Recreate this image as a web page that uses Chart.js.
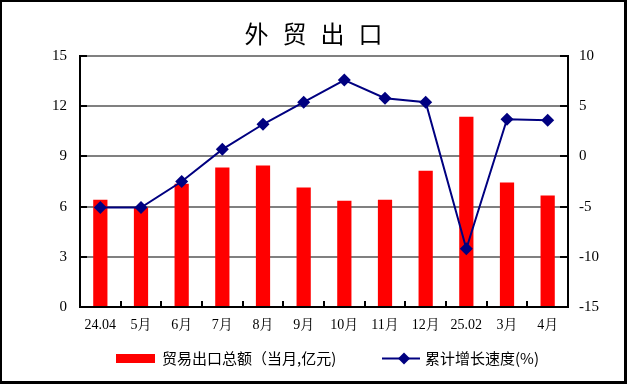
<!DOCTYPE html>
<html>
<head>
<meta charset="utf-8">
<script src="https://cdn.jsdelivr.net/npm/chart.js@4/dist/chart.umd.min.js"></script>
<style>
html,body{margin:0;padding:0;background:#fff;}
#wrap{width:627px;height:384px;position:relative;}
</style>
</head>
<body>
<div id="wrap"><canvas id="c" width="627" height="384"></canvas></div>
<script>
const titleText = "外 贸 出 口";
const categories = ["24.04","5月","6月","7月","8月","9月","10月","11月","12月","25.02","3月","4月"];
const exportValues = [6.41, 5.95, 7.36, 8.33, 8.45, 7.14, 6.35, 6.41, 8.14, 11.37, 7.44, 6.67];
const growthValues = [-5.1, -5.1, -2.5, 0.7, 3.2, 5.4, 7.6, 5.8, 5.4, -9.2, 3.7, 3.6];
const barLabel = "贸易出口总额（当月,亿元)";
const lineLabel = "累计增长速度(%)";
const leftTicks = [0, 3, 6, 9, 12, 15];
const rightTicks = [-15, -10, -5, 0, 5, 10];

const serif = "'Liberation Serif','Times New Roman','Noto Serif CJK SC','Noto Sans CJK SC',serif";
const cjk = "'Noto Sans CJK SC','Noto Sans',sans-serif";

const decor = {
  id: 'decor',
  afterDatasetsDraw(chart) {
    const ctx = chart.ctx;
    const x = chart.scales.x, y = chart.scales.y, y1 = chart.scales.y1;
    const a = chart.chartArea;
    ctx.save();
    ctx.strokeStyle = '#000';
    ctx.lineWidth = 2;
    ctx.beginPath();
    // left axis inward ticks
    leftTicks.forEach(v => {
      const py = Math.round(y.getPixelForValue(v));
      ctx.moveTo(a.left, py); ctx.lineTo(a.left + 7, py);
    });
    rightTicks.forEach(v => {
      const py = Math.round(y1.getPixelForValue(v));
      ctx.moveTo(a.right, py); ctx.lineTo(a.right - 8, py);
    });
    // x-axis inward ticks between categories
    for (let i = 1; i < categories.length; i++) {
      const px = Math.round((x.getPixelForValue(i - 1) + x.getPixelForValue(i)) / 2);
      ctx.moveTo(px, a.bottom); ctx.lineTo(px, a.bottom - 6);
    }
    ctx.stroke();
    ctx.restore();
  },
  afterDraw(chart) {
    const ctx = chart.ctx;
    ctx.save();
    // frame
    ctx.fillStyle = '#000';
    ctx.fillRect(0, 0, 627, 2);
    ctx.fillRect(0, 0, 2, 384);
    ctx.fillRect(624, 0, 3, 384);
    ctx.fillRect(0, 381, 627, 3);
    // title
    ctx.font = "24px " + cjk;
    ctx.textAlign = 'center';
    ctx.textBaseline = 'middle';
    ctx.fillStyle = '#000';
    const chars = titleText.split(' ');
    const pitch = 38;
    const cx = 313.5;
    chars.forEach((ch, i) => {
      ctx.fillText(ch, cx + (i - (chars.length - 1) / 2) * pitch, 34);
    });
    // legend
    const ly = 358.5;
    ctx.fillStyle = '#FF0000';
    ctx.fillRect(116, 354, 39, 9);
    ctx.fillStyle = '#000';
    ctx.textAlign = 'left';
    ctx.font = "15px " + cjk;
    ctx.fillText(barLabel, 162, ly);
    ctx.strokeStyle = '#000080';
    ctx.lineWidth = 2;
    ctx.beginPath();
    ctx.moveTo(382, ly); ctx.lineTo(420, ly);
    ctx.stroke();
    ctx.fillStyle = '#000080';
    ctx.beginPath();
    ctx.moveTo(404, ly - 6); ctx.lineTo(410, ly); ctx.lineTo(404, ly + 6); ctx.lineTo(398, ly);
    ctx.closePath(); ctx.fill();
    ctx.fillStyle = '#000';
    ctx.fillText(lineLabel, 425, ly);
    ctx.restore();
  }
};

new Chart(document.getElementById('c'), {
  type: 'bar',
  data: {
    labels: categories,
    datasets: [
      {
        type: 'line',
        label: lineLabel,
        data: growthValues,
        yAxisID: 'y1',
        borderColor: '#000080',
        backgroundColor: '#000080',
        borderWidth: 2,
        pointStyle: 'rectRot',
        pointRadius: 6.5,
        pointBorderWidth: 0,
        tension: 0,
        order: 0
      },
      {
        type: 'bar',
        label: barLabel,
        data: exportValues,
        yAxisID: 'y',
        backgroundColor: '#FF0000',
        borderWidth: 0,
        barPercentage: 0.35,
        categoryPercentage: 1.0,
        order: 1
      }
    ]
  },
  options: {
    responsive: false,
    animation: false,
    devicePixelRatio: 1,
    layout: { padding: { top: 56, bottom: 50, left: 0, right: 0 } },
    plugins: { legend: { display: false }, tooltip: { enabled: false }, title: { display: false } },
    scales: {
      x: {
        offset: true,
        grid: { display: false, drawTicks: false },
        border: { color: '#000', width: 2 },
        ticks: { color: '#000', font: { family: serif, size: 14 }, padding: 10, maxRotation: 0, autoSkip: false },
        afterFit(s) { s.height = 27; }
      },
      y: {
        position: 'left',
        min: 0, max: 15,
        afterBuildTicks(s) { s.ticks = leftTicks.map(v => ({ value: v })); },
        grid: { color: '#808080', lineWidth: 2, drawTicks: false },
        border: { color: '#000', width: 2 },
        ticks: { color: '#000', font: { family: serif, size: 15 }, padding: 13 },
        afterFit(s) { s.width = 80; }
      },
      y1: {
        position: 'right',
        min: -15, max: 10,
        afterBuildTicks(s) { s.ticks = rightTicks.map(v => ({ value: v })); },
        grid: { display: false, drawTicks: false },
        border: { color: '#000', width: 2 },
        ticks: { color: '#000', font: { family: serif, size: 15 }, padding: 11 },
        afterFit(s) { s.width = 59; }
      }
    }
  },
  plugins: [decor]
});
</script>
</body>
</html>
